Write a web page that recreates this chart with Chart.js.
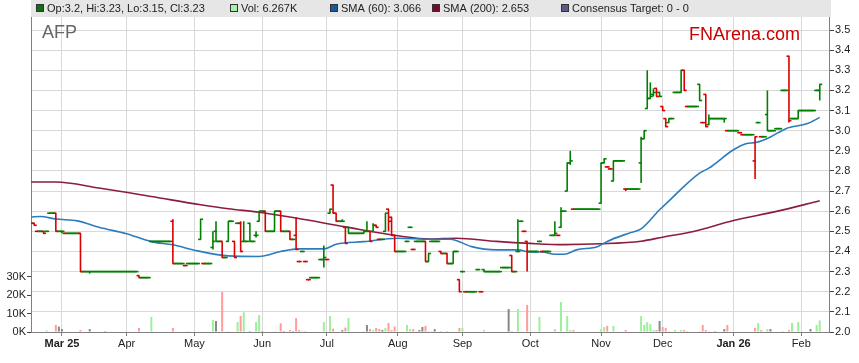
<!DOCTYPE html>
<html><head><meta charset="utf-8">
<script src="https://cdn.jsdelivr.net/npm/chart.js@4.4.1/dist/chart.umd.min.js"></script>
<style>html,body{margin:0;padding:0;background:#fff;}#wrap{width:859px;height:363px;}</style>
</head><body><div id="wrap"><canvas id="c" width="859" height="363"></canvas></div>
<script>
// weekday index of the first value (0 = Mon 3 Mar 2025, one step per weekday)
const firstIndex = -10;
const opens = [
2.54,2.54,2.50,2.50,2.50,2.50,2.59,2.59,2.59,2.50,
2.50,2.49,2.49,2.49,2.49,2.49,2.49,2.30,2.30,2.30,
2.30,2.30,2.30,2.30,2.30,2.30,2.30,2.30,2.30,2.30,
2.30,2.30,2.30,2.30,2.30,2.28,2.27,2.27,2.27,2.45,
2.45,2.45,2.45,2.45,2.45,2.45,2.55,2.34,2.34,2.34,
2.33,2.34,2.34,2.34,2.34,2.46,2.34,2.34,2.34,2.42,
2.50,2.45,2.45,2.37,2.45,2.55,2.45,2.54,2.54,2.45,
2.45,2.54,2.45,2.48,2.55,2.60,2.60,2.50,2.50,2.50,
2.60,2.60,2.50,2.50,2.50,2.46,2.48,2.35,2.40,2.35,
2.26,2.27,2.27,2.27,2.36,2.36,2.36,2.59,2.73,2.59,
2.55,2.55,2.52,2.52,2.49,2.49,2.49,2.49,2.49,2.50,
2.50,2.50,2.53,2.46,2.46,2.50,2.61,2.57,2.48,2.40,
2.40,2.40,2.45,2.52,2.41,2.45,2.45,2.45,2.45,2.35,
2.45,2.45,2.45,2.40,2.39,2.39,2.34,2.34,2.40,2.26,
2.30,2.20,2.20,2.20,2.20,2.31,2.20,2.31,2.30,2.30,
2.30,2.30,2.30,2.32,2.32,2.32,2.38,2.30,2.40,2.55,
2.50,2.45,2.40,2.40,2.40,2.45,2.40,2.40,2.40,2.48,
2.48,2.48,2.52,2.60,2.70,2.84,2.61,2.61,2.61,2.61,
2.61,2.61,2.61,2.61,2.61,2.64,2.84,2.82,2.81,2.75,
2.85,2.85,2.85,2.71,2.71,2.71,2.71,2.71,2.84,2.96,
3.11,3.16,3.18,3.21,3.19,3.12,3.06,3.04,3.06,3.19,
3.19,3.19,3.30,3.12,3.12,3.12,3.12,3.23,3.04,3.18,
3.03,3.06,3.06,3.06,3.06,3.06,3.00,3.00,3.00,3.00,
2.99,2.98,2.98,2.98,2.98,2.85,3.04,2.97,2.97,3.08,
3.00,3.00,3.01,3.01,3.20,3.20,3.37,3.06,3.06,3.06,
3.10,3.10,3.10,3.10,3.10,3.20,3.20];
const highs = [
2.54,2.54,2.50,2.50,2.50,2.50,2.59,2.59,2.59,2.50,
2.50,2.49,2.49,2.49,2.49,2.49,2.49,2.30,2.30,2.30,
2.30,2.30,2.30,2.30,2.30,2.30,2.30,2.30,2.30,2.30,
2.30,2.30,2.30,2.30,2.30,2.28,2.27,2.27,2.27,2.45,
2.45,2.45,2.45,2.45,2.45,2.45,2.56,2.34,2.34,2.34,
2.33,2.34,2.34,2.34,2.34,2.56,2.34,2.34,2.34,2.50,
2.55,2.45,2.45,2.37,2.55,2.55,2.45,2.54,2.55,2.55,
2.45,2.54,2.45,2.50,2.60,2.60,2.60,2.50,2.50,2.60,
2.60,2.60,2.50,2.50,2.50,2.46,2.57,2.35,2.40,2.35,
2.26,2.27,2.27,2.27,2.36,2.43,2.36,2.61,2.73,2.59,
2.55,2.56,2.52,2.52,2.49,2.49,2.49,2.49,2.50,2.55,
2.50,2.54,2.53,2.46,2.46,2.59,2.61,2.57,2.48,2.40,
2.40,2.40,2.45,2.52,2.41,2.45,2.45,2.45,2.45,2.39,
2.45,2.45,2.45,2.40,2.39,2.39,2.34,2.40,2.40,2.26,
2.30,2.20,2.20,2.20,2.20,2.31,2.20,2.31,2.30,2.30,
2.30,2.30,2.30,2.32,2.32,2.32,2.38,2.30,2.56,2.55,
2.50,2.45,2.40,2.40,2.40,2.45,2.40,2.40,2.40,2.48,
2.55,2.48,2.62,2.60,2.84,2.90,2.61,2.61,2.61,2.61,
2.61,2.61,2.61,2.61,2.61,2.84,2.86,2.82,2.81,2.85,
2.85,2.85,2.85,2.71,2.71,2.71,2.71,2.71,2.97,3.00,
3.30,3.24,3.21,3.21,3.19,3.12,3.06,3.06,3.06,3.19,
3.19,3.30,3.30,3.12,3.12,3.12,3.12,3.23,3.04,3.18,
3.08,3.06,3.06,3.06,3.06,3.06,3.00,3.00,3.00,3.00,
2.99,2.98,2.98,2.98,2.98,2.97,3.04,2.97,2.97,3.20,
3.00,3.00,3.01,3.01,3.20,3.20,3.37,3.06,3.06,3.10,
3.10,3.10,3.10,3.10,3.10,3.20,3.23];
const lows = [
2.54,2.53,2.50,2.50,2.49,2.50,2.59,2.59,2.50,2.50,
2.49,2.49,2.49,2.49,2.49,2.49,2.30,2.30,2.30,2.29,
2.30,2.30,2.30,2.30,2.30,2.30,2.30,2.30,2.30,2.30,
2.30,2.30,2.30,2.30,2.30,2.27,2.27,2.27,2.27,2.45,
2.45,2.45,2.45,2.45,2.45,2.45,2.34,2.34,2.34,2.34,
2.33,2.34,2.34,2.34,2.34,2.46,2.34,2.34,2.34,2.41,
2.45,2.45,2.37,2.37,2.45,2.55,2.37,2.54,2.40,2.45,
2.45,2.45,2.45,2.47,2.55,2.60,2.50,2.50,2.50,2.50,
2.60,2.50,2.50,2.50,2.46,2.46,2.41,2.35,2.40,2.35,
2.26,2.27,2.27,2.27,2.36,2.32,2.36,2.59,2.59,2.55,
2.55,2.55,2.44,2.49,2.49,2.49,2.49,2.49,2.49,2.50,
2.45,2.50,2.52,2.46,2.46,2.50,2.50,2.48,2.40,2.40,
2.40,2.40,2.45,2.52,2.41,2.45,2.45,2.45,2.35,2.35,
2.45,2.45,2.45,2.39,2.39,2.34,2.34,2.34,2.40,2.20,
2.30,2.20,2.20,2.20,2.20,2.31,2.20,2.30,2.30,2.30,
2.30,2.30,2.30,2.32,2.32,2.32,2.30,2.30,2.40,2.55,
2.50,2.30,2.40,2.40,2.40,2.45,2.40,2.40,2.40,2.48,
2.48,2.48,2.52,2.60,2.70,2.83,2.61,2.61,2.61,2.61,
2.61,2.61,2.61,2.61,2.61,2.64,2.84,2.82,2.81,2.75,
2.85,2.85,2.85,2.70,2.71,2.71,2.71,2.71,2.74,2.96,
3.11,3.16,3.17,3.17,3.17,3.10,3.02,3.04,3.06,3.19,
3.19,3.19,3.20,3.12,3.12,3.12,3.12,3.15,3.04,3.02,
3.03,3.06,3.06,3.06,3.06,3.04,3.00,3.00,3.00,3.00,
2.99,2.98,2.98,2.98,2.98,2.76,3.04,2.97,2.97,3.00,
3.00,3.00,3.01,3.01,3.20,3.20,3.04,3.06,3.06,3.06,
3.10,3.10,3.10,3.10,3.10,3.20,3.15];
const closes = [
2.54,2.53,2.50,2.50,2.49,2.50,2.59,2.59,2.50,2.50,
2.50,2.49,2.49,2.49,2.49,2.49,2.30,2.30,2.30,2.30,
2.30,2.30,2.30,2.30,2.30,2.30,2.30,2.30,2.30,2.30,
2.30,2.30,2.30,2.30,2.30,2.27,2.27,2.27,2.27,2.45,
2.45,2.45,2.45,2.45,2.45,2.45,2.34,2.34,2.34,2.34,
2.33,2.34,2.34,2.34,2.34,2.56,2.34,2.34,2.34,2.45,
2.45,2.45,2.37,2.37,2.55,2.55,2.37,2.54,2.40,2.45,
2.45,2.45,2.45,2.48,2.60,2.60,2.50,2.50,2.50,2.60,
2.60,2.50,2.50,2.50,2.46,2.46,2.41,2.35,2.40,2.35,
2.26,2.27,2.27,2.27,2.36,2.37,2.36,2.61,2.59,2.55,
2.55,2.55,2.44,2.49,2.49,2.49,2.49,2.49,2.50,2.50,
2.45,2.53,2.52,2.46,2.46,2.59,2.55,2.48,2.40,2.40,
2.40,2.40,2.45,2.52,2.41,2.45,2.45,2.45,2.35,2.39,
2.45,2.45,2.45,2.39,2.39,2.34,2.34,2.40,2.40,2.20,
2.30,2.20,2.20,2.20,2.20,2.31,2.20,2.30,2.30,2.30,
2.30,2.30,2.30,2.32,2.32,2.32,2.30,2.30,2.40,2.55,
2.50,2.40,2.40,2.40,2.40,2.45,2.40,2.40,2.40,2.48,
2.49,2.48,2.60,2.60,2.84,2.85,2.61,2.61,2.61,2.61,
2.61,2.61,2.61,2.61,2.61,2.84,2.86,2.82,2.81,2.85,
2.85,2.85,2.85,2.71,2.71,2.71,2.71,2.71,2.96,3.00,
3.16,3.17,3.19,3.17,3.17,3.10,3.02,3.06,3.06,3.19,
3.19,3.30,3.20,3.12,3.12,3.12,3.12,3.15,3.04,3.02,
3.06,3.06,3.06,3.06,3.06,3.06,3.00,3.00,3.00,3.00,
2.99,2.98,2.98,2.98,2.98,2.97,3.04,2.97,2.97,3.00,
3.00,3.00,3.01,3.01,3.20,3.20,3.05,3.06,3.06,3.10,
3.10,3.10,3.10,3.10,3.10,3.20,3.23];
// volume in thousands of shares
const volumesK = [
0,0,0,0,0,1.0,0,0,3.8,2.9,
1.6,0,0,0,0,0,1.1,0,0,1.6,
0,0,0,0,0.5,0,0,0,0,0,
0,0,0,0,0,2.2,0,0,0,8.2,
0,0,0,0,0,0,2.2,0,0,0,
0,0.5,0,0,0,0,0,0,0,6.5,
6.0,0,21.7,0,0.5,0,0,5.4,8.7,10.7,
0,0.5,0,5.4,9.2,0.5,0,0,0,0.5,
0,4.7,0.5,0,1.1,0.5,7.6,1.1,0.5,0.5,
0,0,0,0,0,5.4,0,8.7,1.8,0,
0,1.1,2.4,7.6,0,0,0,0,0.5,3.8,
1.6,1.1,2.2,1.6,1.1,2.2,4.9,1.1,2.9,0,
0,0,3.8,1.6,1.6,0.5,1.1,2.7,3.3,0.5,
0.5,1.6,0,0.5,0,0.5,0,0,0,2.2,
2.2,0,0,0,0,0,0,1.1,0,0,
0,0,0,0,0,12.5,0.5,0,12.5,0,
0,14.7,0,0,0,8.2,0,0,0,0,
1.6,0,16.3,0,8.7,1.1,1.1,0,0,0,
0,0,0,0,0,1.5,2.7,3.3,0,3.3,
0,0,0,1.1,0,0,0,0,8.7,3.8,
5.4,4.3,1.1,1.1,6.0,2.7,2.2,0.5,0,1.1,
0,1.1,1.1,0.5,0,0,0,0.5,3.8,1.1,
0.5,0,0.5,0,0,1.6,3.8,0,0,0,
0,0,0,0,0,2.2,4.9,1.1,0,1.6,
1.6,0,0,0,0.5,0,1.1,4.9,0,5.4,
0,0,0,1.6,0,3.8,6.267];
// moving averages (weekday index, value)
const sma60Idx = [-10,-7,-2,5,12,21,29,36,44,54,64,71,77,85,89,98,109,120,126,133,141,148,152,156,160,163,167,174,177,184,188,194,198,201,207,210,218,222,225.5,230,235,242,246];
const sma60Val = [2.571,2.574,2.561,2.552,2.52,2.488,2.449,2.433,2.403,2.378,2.375,2.40,2.413,2.413,2.436,2.449,2.466,2.461,2.461,2.424,2.408,2.408,2.397,2.397,2.386,2.386,2.408,2.425,2.45,2.491,2.512,2.607,2.665,2.71,2.789,2.814,2.905,2.935,2.942,2.969,3.01,3.035,3.066];
const sma200Idx = [-10,-2,12,29,45,54,64,76,92,109,119.5,128,141,152,163,175,188,195,205,218,232,246];
const sma200Val = [2.745,2.745,2.715,2.673,2.632,2.612,2.595,2.566,2.522,2.478,2.462,2.466,2.45,2.44,2.434,2.438,2.451,2.471,2.499,2.554,2.599,2.652];
// axes
const monthTickIdx = [0,21,43,65,86,109,130,152,175,195,218,240];
const monthLabels = ['Mar 25','Apr','May','Jun','Jul','Aug','Sep','Oct','Nov','Dec','Jan 26','Feb'];
const boldLabels = ['Mar 25','Jan 26'];
const priceTicks = [2.0,2.1,2.2,2.3,2.4,2.5,2.6,2.7,2.8,2.9,3.0,3.1,3.2,3.3,3.4,3.5];
const volTicks = [0,10000,20000,30000];
const volTickLabels = ['0K','10K','20K','30K'];
const legendTexts = ['Op:3.2, Hi:3.23, Lo:3.15, Cl:3.23','Vol: 6.267K','SMA (60): 3.066','SMA (200): 2.653','Consensus Target: 0 - 0'];
const stockCode = 'AFP';
const brandText = 'FNArena.com';

const FONT = '"Liberation Sans", Arial, Helvetica, sans-serif';
const GREEN = '#008000', RED = '#d80000';
const VGREEN = '#9cf09c', VRED = '#ff9c9c', VGRAY = '#888888';
const TICKH = 0.004;

const N = closes.length;
const dir = closes.map((c, i) => i === 0 ? 0 : (c > closes[i-1] ? 1 : (c < closes[i-1] ? -1 : 0)));
const hlData = [], hlCol = [], opData = [], clData = [], ocCol = [], volData = [], volCol = [];
for (let i = 0; i < N; i++) {
  const x = firstIndex + i;
  const col = dir[i] < 0 ? RED : GREEN;
  if (highs[i] > lows[i]) { hlData.push({x: x, y: [lows[i], highs[i]]}); hlCol.push(col); }
  opData.push({x: x - 0.32, y: [opens[i] - TICKH, opens[i] + TICKH]});
  clData.push({x: x + 0.32, y: [closes[i] - TICKH, closes[i] + TICKH]});
  ocCol.push(col);
  if (volumesK[i] > 0) {
    volData.push({x: x, y: volumesK[i] * 1000});
    volCol.push(dir[i] > 0 ? VGREEN : (dir[i] < 0 ? VRED : VGRAY));
  }
}
const sma60 = sma60Idx.map((x, i) => ({x: x, y: sma60Val[i]}));
const sma200 = sma200Idx.map((x, i) => ({x: x, y: sma200Val[i]}));

const legendColors = ['#107010', '#a8f0a8', '#1a5a9a', '#7a0a2a', '#5a5a8c'];
const legendX = [36, 230, 330, 432, 561];

const decorPlugin = {
  id: 'decor',
  beforeDraw(chart) {
    const ctx = chart.ctx, a = chart.chartArea;
    ctx.save();
    ctx.fillStyle = '#e6e6e6';
    ctx.fillRect(a.left, 0, a.right - a.left + 2, a.top);
    ctx.font = '11px ' + FONT;
    ctx.textBaseline = 'middle';
    ctx.textAlign = 'left';
    legendTexts.forEach((t, i) => {
      const x = legendX[i];
      ctx.fillStyle = legendColors[i];
      ctx.fillRect(x + 0.5, 4.5, 7, 7);
      ctx.strokeStyle = '#333';
      ctx.lineWidth = 1;
      ctx.strokeRect(x + 0.5, 4.5, 7, 7);
      ctx.fillStyle = '#222';
      ctx.fillText(t, x + 11, 8.5);
    });
    ctx.restore();
  },
  beforeDatasetsDraw(chart) {
    const ctx = chart.ctx;
    ctx.save();
    ctx.textBaseline = 'alphabetic';
    ctx.textAlign = 'left';
    ctx.font = '18px ' + FONT;
    ctx.fillStyle = '#666';
    ctx.fillText(stockCode, 42, 38);
    ctx.fillStyle = '#cc0000';
    ctx.fillText(brandText, 689, 39.5);
    ctx.restore();
  }
};

const barCommon = {type: 'bar', grouped: false, inflateAmount: 0, borderWidth: 0, xAxisID: 'x'};

new Chart(document.getElementById('c'), {
  type: 'bar',
  data: {
    datasets: [
      Object.assign({}, barCommon, {label: 'HL', data: hlData, backgroundColor: hlCol, barThickness: 1.6, yAxisID: 'y', order: 1}),
      Object.assign({}, barCommon, {label: 'Open', data: opData, backgroundColor: ocCol, barThickness: 3, yAxisID: 'y', order: 1}),
      Object.assign({}, barCommon, {label: 'Close', data: clData, backgroundColor: ocCol, barThickness: 3, yAxisID: 'y', order: 1}),
      {type: 'line', label: 'SMA (60)', data: sma60, borderColor: '#2c7cbd', borderWidth: 1.6, pointRadius: 0, cubicInterpolationMode: 'monotone', yAxisID: 'y', xAxisID: 'x', order: 3},
      {type: 'line', label: 'SMA (200)', data: sma200, borderColor: '#8c1c40', borderWidth: 1.6, pointRadius: 0, cubicInterpolationMode: 'monotone', yAxisID: 'y', xAxisID: 'x', order: 3},
      Object.assign({}, barCommon, {label: 'Vol', data: volData, backgroundColor: volCol, barThickness: 2, yAxisID: 'yv', order: 10})
    ]
  },
  options: {
    responsive: false,
    animation: false,
    devicePixelRatio: 1,
    layout: {padding: {top: 17, left: 0, right: 0, bottom: 0}},
    plugins: {legend: {display: false}, tooltip: {enabled: false}},
    scales: {
      x: {
        type: 'linear', min: -10.06, max: 249, offset: false,
        afterBuildTicks: s => { s.ticks = monthTickIdx.map(v => ({value: v})); },
        afterFit: s => { s.height = 31; },
        ticks: {
          autoSkip: false, maxRotation: 0, padding: 1, color: '#222',
          font: ctx => ({family: FONT, size: 11, weight: boldLabels.includes(monthLabels[ctx.index]) ? 'bold' : 'normal'}),
          callback: (v, i) => monthLabels[i]
        },
        grid: {color: '#d9d9d9', lineWidth: 1, drawTicks: true, tickLength: 4, tickColor: '#808080', offset: false},
        border: {color: '#808080', width: 1}
      },
      y: {
        type: 'linear', position: 'right', min: 2.0, max: 3.5646,
        afterBuildTicks: s => { s.ticks = priceTicks.map(v => ({value: v})); },
        afterFit: s => { s.width = 30; },
        ticks: {padding: 1, color: '#222', font: {family: FONT, size: 11}, callback: v => Number(v).toFixed(1)},
        grid: {color: '#d9d9d9', lineWidth: 1, drawTicks: true, tickLength: 5, tickColor: '#444'},
        border: {color: '#808080', width: 1}
      },
      yv: {
        type: 'linear', position: 'left', min: 0, max: 171000,
        afterBuildTicks: s => { s.ticks = volTicks.map(v => ({value: v})); },
        afterFit: s => { s.width = 31; },
        ticks: {padding: 1, color: '#222', font: {family: FONT, size: 11}, callback: (v, i) => volTickLabels[i]},
        grid: {drawOnChartArea: false, drawTicks: true, tickLength: 4, tickColor: '#444'},
        border: {color: '#808080', width: 1}
      }
    }
  },
  plugins: [decorPlugin]
});
</script>
</body></html>
